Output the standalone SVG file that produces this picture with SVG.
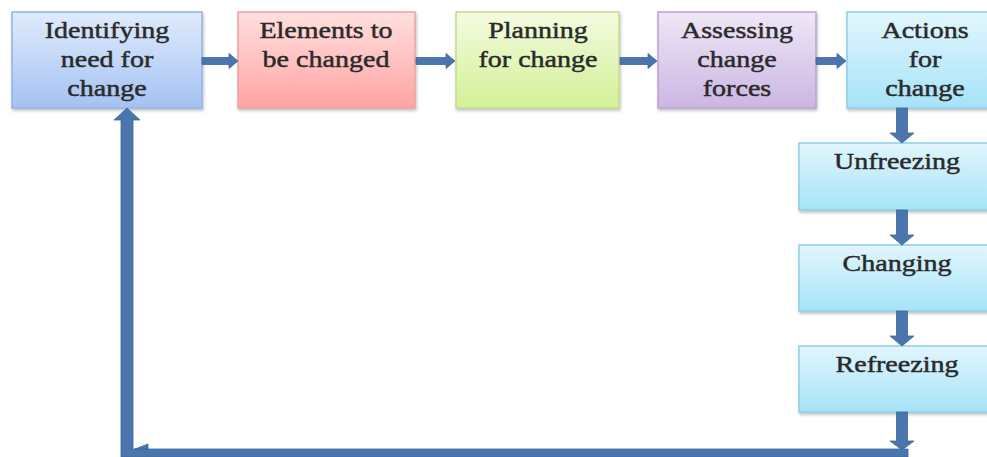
<svg xmlns="http://www.w3.org/2000/svg" width="987" height="457" viewBox="0 0 987 457">
  <defs>
    <linearGradient id="gBlue" x1="0" y1="0" x2="0" y2="1">
      <stop offset="0" stop-color="#e0ebfc"/>
      <stop offset="1" stop-color="#a4c2f3"/>
    </linearGradient>
    <linearGradient id="gRed" x1="0" y1="0" x2="0" y2="1">
      <stop offset="0" stop-color="#ffe0df"/>
      <stop offset="1" stop-color="#ffa3a3"/>
    </linearGradient>
    <linearGradient id="gGreen" x1="0" y1="0" x2="0" y2="1">
      <stop offset="0" stop-color="#f4fbe0"/>
      <stop offset="1" stop-color="#d3f096"/>
    </linearGradient>
    <linearGradient id="gPurple" x1="0" y1="0" x2="0" y2="1">
      <stop offset="0" stop-color="#efe7f7"/>
      <stop offset="1" stop-color="#cbb6e3"/>
    </linearGradient>
    <linearGradient id="gCyan" x1="0" y1="0" x2="0" y2="1">
      <stop offset="0" stop-color="#e2f6fd"/>
      <stop offset="1" stop-color="#a6e3f8"/>
    </linearGradient>
    <filter id="shadow" x="-5%" y="-5%" width="115%" height="120%">
      <feDropShadow dx="1" dy="2" stdDeviation="1.5" flood-color="#000" flood-opacity="0.25"/>
    </filter>
  </defs>
  <style>
    .box { filter: url(#shadow); stroke-width: 1.5; }
    .blue { fill: url(#gBlue); stroke: #93b3e2; }
    .red { fill: url(#gRed); stroke: #eaa3a3; }
    .green { fill: url(#gGreen); stroke: #c5da92; }
    .purple { fill: url(#gPurple); stroke: #b9a2d3; }
    .cyan { fill: url(#gCyan); stroke: #8fcde8; }
    .lbl { font-family: "Liberation Serif", "Times New Roman", serif; font-size: 23px; fill: #2a2a2a; stroke: #2a2a2a; stroke-width: 0.45; text-anchor: middle; }
    .arr { fill: #4a76ad; stroke: #3e6799; stroke-width: 0.8; }
  </style>

  <rect width="987" height="457" fill="#ffffff"/>

  <!-- process steps -->
  <g id="identify">
    <rect class="box blue" x="12" y="12" width="190" height="96"/>
    <g transform="translate(107,0) scale(1.22,1)">
      <text class="lbl" x="0" y="38">Identifying</text>
      <text class="lbl" x="0" y="67">need for</text>
      <text class="lbl" x="0" y="96">change</text>
    </g>
  </g>
  <g id="elements">
    <rect class="box red" x="238" y="12" width="177" height="96"/>
    <g transform="translate(326,0) scale(1.22,1)">
      <text class="lbl" x="0" y="38">Elements to</text>
      <text class="lbl" x="0" y="67">be changed</text>
    </g>
  </g>
  <g id="planning">
    <rect class="box green" x="456" y="12" width="163" height="96"/>
    <g transform="translate(538,0) scale(1.22,1)">
      <text class="lbl" x="0" y="38">Planning</text>
      <text class="lbl" x="0" y="67">for change</text>
    </g>
  </g>
  <g id="assessing">
    <rect class="box purple" x="658" y="12" width="158" height="96"/>
    <g transform="translate(737,0) scale(1.22,1)">
      <text class="lbl" x="0" y="38">Assessing</text>
      <text class="lbl" x="0" y="67">change</text>
      <text class="lbl" x="0" y="96">forces</text>
    </g>
  </g>
  <g id="actions">
    <rect class="box cyan" x="847" y="12" width="156" height="96"/>
    <g transform="translate(925,0) scale(1.22,1)">
      <text class="lbl" x="0" y="38">Actions</text>
      <text class="lbl" x="0" y="67">for</text>
      <text class="lbl" x="0" y="96">change</text>
    </g>
  </g>
  <g id="unfreezing">
    <rect class="box cyan" x="799" y="143" width="196" height="67"/>
    <g transform="translate(897,0) scale(1.22,1)">
      <text class="lbl" x="0" y="169">Unfreezing</text>
    </g>
  </g>
  <g id="changing">
    <rect class="box cyan" x="799" y="245" width="196" height="66"/>
    <g transform="translate(897,0) scale(1.22,1)">
      <text class="lbl" x="0" y="271">Changing</text>
    </g>
  </g>
  <g id="refreezing">
    <rect class="box cyan" x="799" y="346" width="196" height="66"/>
    <g transform="translate(897,0) scale(1.22,1)">
      <text class="lbl" x="0" y="372">Refreezing</text>
    </g>
  </g>

  <!-- block-arrow connectors -->
  <g id="connectors">
    <polygon class="arr" points="202,57.5 229,57.5 229,53.5 238,61 229,68.5 229,64.5 202,64.5"/>
    <polygon class="arr" points="416,57.5 446,57.5 446,53.5 455,61 446,68.5 446,64.5 416,64.5"/>
    <polygon class="arr" points="620,57.5 648,57.5 648,53.5 657,61 648,68.5 648,64.5 620,64.5"/>
    <polygon class="arr" points="816,57.5 837,57.5 837,53.5 846,61 837,68.5 837,64.5 816,64.5"/>

    <polygon class="arr" points="896.5,108 907.5,108 907.5,133 914,133 902,143 890,133 896.5,133"/>
    <polygon class="arr" points="896.5,210 907.5,210 907.5,235 914,235 902,245 890,235 896.5,235"/>
    <polygon class="arr" points="896.5,311 907.5,311 907.5,336 914,336 902,346 890,336 896.5,336"/>
    <polygon class="arr" points="896.5,412 907.5,412 907.5,441 914,441 902,450 890,441 896.5,441"/>

    <!-- feedback loop back to the first step -->
    <path class="arr" d="M908,449 L908,457 L121,457 L121,120 L114,120 L127,108 L140,120 L133,120 L133,449 Z"/>
    <polygon class="arr" points="135,449 148,444 148,449"/>
  </g>
</svg>
